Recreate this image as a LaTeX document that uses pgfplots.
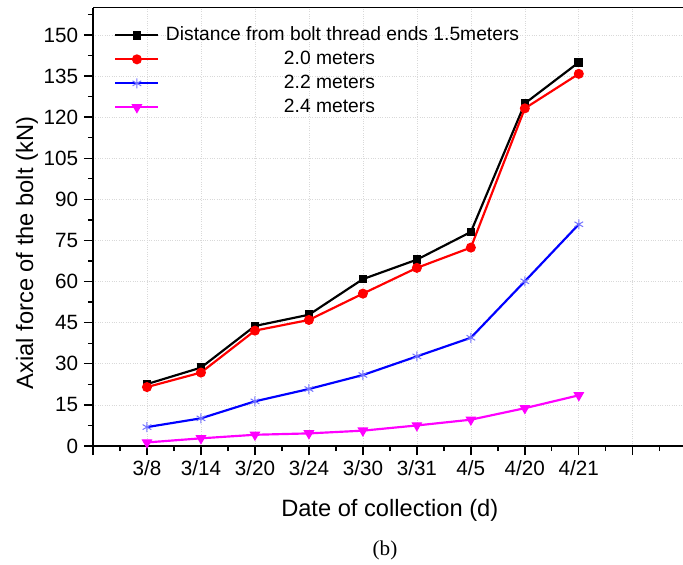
\documentclass[border=0pt]{standalone}
\usepackage{fontspec}
\setmainfont{Liberation Sans}
\newfontfamily\seriffont{Liberation Serif}
\usepackage{pgfplots}
\pgfplotsset{compat=1.18}
\definecolor{mag}{RGB}{255,0,255}
\definecolor{bl}{RGB}{0,0,255}
\definecolor{rd}{RGB}{255,0,0}
\begin{document}
\begin{tikzpicture}
\begin{axis}[
  name=ax,
  scale only axis,
  width=354pt, height=263.1pt,
  xmin=0, xmax=10.93, ymin=0, ymax=160,
  axis x line*=bottom, axis y line*=left,
  axis line style={line width=1pt, -},
  tick align=outside,
  xtick={0,...,10},
  xticklabels={,3/8,3/14,3/20,3/24,3/30,3/31,4/5,4/20,4/21,},
  minor xtick={0.5,1.5,...,10.5},
  ytick={0,15,...,150},
  minor ytick={7.5,22.5,...,157.5},
  major tick length=5.4pt, minor tick length=3pt,
  every tick/.style={line width=0.8pt, black},
  grid=major,
  grid style={densely dotted, gray!30, line width=0.4pt},
  ticklabel style={font=\fontsize{12.4}{14}\selectfont},
  /pgf/number format/assume math mode=true,
  xlabel={Date of collection (d)},
  ylabel={Axial force of the bolt (kN)},
  every axis x label/.style={at={(axis description cs:0.503,-0.146)}, anchor=center, font=\fontsize{14.2}{16}\selectfont},
  every axis y label/.style={at={(axis description cs:-0.1119,0.44)}, anchor=center, rotate=90, font=\fontsize{14.2}{16}\selectfont},
  legend style={draw=none, fill=none, at={(axis description cs:0,1)}, anchor=north west, xshift=12.6pt, yshift=-9.5pt, font=\fontsize{11.55}{13}\selectfont, row sep=0.4pt, column sep=2.4pt, inner sep=0pt, nodes={inner sep=1.5pt, text height=8.5pt, text depth=2.5pt}},
  legend cell align=left,
  legend image code/.code={\draw[mark repeat=2,mark phase=2,#1] plot coordinates {(0pt,0pt)(12.9pt,0pt)(25.8pt,0pt)};},
]
\addplot[black, line width=1.3pt, mark=square*, mark size=2.2pt, mark options={line width=0.8pt}] coordinates {(1,22.6)(2,28.6)(3,43.8)(4,47.9)(5,60.9)(6,68.0)(7,78.1)(8,125.0)(9,140.0)};
\addlegendentry{Distance from bolt thread ends 1.5meters}
\addplot[rd, line width=1.3pt, mark=*, mark size=2.6pt, mark options={line width=0.8pt}] coordinates {(1,21.5)(2,26.8)(3,42.1)(4,46.0)(5,55.6)(6,65.0)(7,72.4)(8,123.2)(9,135.8)};
\addlegendentry{\hspace*{70.8pt}2.0 meters}
\addplot[bl, line width=1.3pt, mark=asterisk, mark size=3pt, mark options={draw=bl!55, line width=0.6pt}] coordinates {(1,6.9)(2,10.1)(3,16.3)(4,20.8)(5,25.9)(6,32.7)(7,39.5)(8,60.1)(9,80.9)};
\addlegendentry{\hspace*{70.8pt}2.2 meters}
\addplot[mag, line width=1.3pt, mark=triangle*, mark size=3pt, mark options={rotate=180, line width=0.8pt}] coordinates {(1,1.3)(2,2.8)(3,4.1)(4,4.6)(5,5.6)(6,7.5)(7,9.6)(8,13.8)(9,18.5)};
\addlegendentry{\hspace*{70.8pt}2.4 meters}
\end{axis}
\draw[line width=1pt] (ax.north west) -- (ax.north east);
\path (ax.south west) ++(175.2pt,-62.4pt) node[font=\seriffont\fontsize{12.7}{14}\selectfont] {(b)};
\pgfresetboundingbox
\path[use as bounding box] (ax.south west) ++(-55.8pt,-70.8pt) rectangle ++(409.8pt,338.4pt);
\end{tikzpicture}
\end{document}
